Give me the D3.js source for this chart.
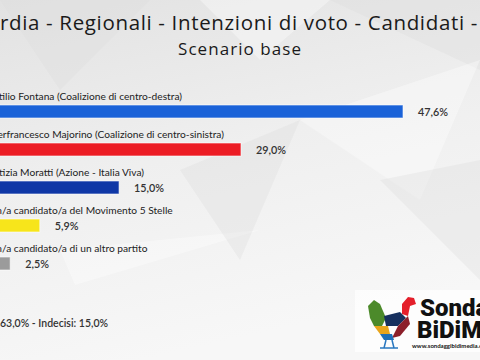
<!DOCTYPE html>
<html>
<head>
<meta charset="utf-8">
<script src="https://cdn.jsdelivr.net/npm/d3@7"></script>
<style>
  html, body { margin: 0; padding: 0; overflow: hidden; }
  svg { display: block; font-family: Lato, 'Open Sans', sans-serif; }
</style>
</head>
<body>
<svg width="480" height="360"></svg>
<script>
const CANDIDATES = [
  'Attilio Fontana (Coalizione di centro-destra)',
  'Pierfrancesco Majorino (Coalizione di centro-sinistra)',
  'Letizia Moratti (Azione - Italia Viva)',
  'Un/a candidato/a del Movimento 5 Stelle',
  'Un/a candidato/a di un altro partito'
]
const VALUES = [47.6, 29.0, 15.0, 5.9, 2.5]
const COLORS = ['#1a62d8', '#ec1c24', '#0f37a6', '#f7e51b', '#9b9b9b']
const TITLE = 'Lombardia - Regionali - Intenzioni di voto - Candidati - Gennaio 2023'
const SUBTITLE = 'Scenario base'
const FOOTNOTE = 'Affluenza: 63,0% - Indecisi: 15,0%'

const width = 480
const height = 360
const svg = d3.select('svg')
const fmt = v => d3.format('.1f')(v).replace('.', ',') + '%'

// measure a string with the given font settings
function measure (str, size, spacing) {
  const t = svg.append('text')
    .attr('font-family', "'Open Sans', sans-serif")
    .attr('font-size', size)
    .attr('letter-spacing', spacing)
    .text(str)
  const w = t.node().getComputedTextLength()
  t.remove()
  return w
}

// background, light low-poly look
const defs = svg.append('defs')
const grad = defs.append('linearGradient').attr('id', 'bg')
  .attr('x1', 0).attr('y1', 0).attr('x2', 0.3).attr('y2', 1)
grad.append('stop').attr('offset', 0).attr('stop-color', '#e2e2e2')
grad.append('stop').attr('offset', 0.5).attr('stop-color', '#efefef')
grad.append('stop').attr('offset', 1).attr('stop-color', '#f7f7f7')
svg.append('rect').attr('width', width).attr('height', height).attr('fill', 'url(#bg)')

const polys = [
  [[0, 0], [150, 0], [60, 90]],
  [[200, 0], [330, 0], [260, 60]],
  [[330, 0], [480, 0], [480, 70]],
  [[300, 120], [480, 60], [420, 200]],
  [[380, 180], [480, 160], [480, 280]],
  [[60, 250], [260, 230], [75, 285]],
  [[180, 170], [300, 120], [240, 260]]
]
svg.append('g').selectAll('polygon').data(polys).join('polygon')
  .attr('points', d => d.join(' '))
  .attr('fill', (d, i) => i % 2 ? '#ffffff' : '#dcdcdc')
  .attr('opacity', 0.35)

// title: stretched so the visible part spans the width
const titleSize = 20.5
const visible = TITLE.slice(5, 56)
const ls = (478 - measure(visible, titleSize, 0)) / visible.length
svg.append('text')
  .attr('x', -measure(TITLE.slice(0, 5), titleSize, ls))
  .attr('y', 30)
  .attr('font-family', "'Open Sans', sans-serif")
  .attr('font-size', titleSize)
  .attr('letter-spacing', ls)
  .attr('fill', '#1a1a1a')
  .text(TITLE)

const subSize = 17
const subLs = (124 - measure(SUBTITLE, subSize, 0)) / SUBTITLE.length
svg.append('text')
  .attr('x', 240 - 124 / 2).attr('y', 55)
  .attr('font-family', "'Open Sans', sans-serif")
  .attr('font-size', subSize)
  .attr('letter-spacing', subLs)
  .attr('fill', '#1a1a1a')
  .text(SUBTITLE)

// scales
const x = d3.scaleLinear().domain([0, 47.6]).range([-11.6, 403])
const y = d3.scaleBand().domain(CANDIDATES).range([92, 92 + 38 * CANDIDATES.length])
const barH = 13

const rows = svg.append('g').selectAll('g').data(CANDIDATES).join('g')
  .attr('transform', d => `translate(0,${y(d)})`)

rows.append('text')
  .attr('x', x(0) + 0.5)
  .attr('y', 8)
  .attr('font-size', 10.2)
  .attr('fill', '#222')
  .text(d => d)

rows.append('rect')
  .attr('x', x(0))
  .attr('y', 13)
  .attr('width', (d, i) => x(VALUES[i]) - x(0))
  .attr('height', barH)
  .attr('fill', (d, i) => COLORS[i])
  .attr('stroke', '#ffffff')
  .attr('stroke-opacity', 0.6)
  .attr('stroke-width', 1)

rows.append('text')
  .attr('x', (d, i) => x(VALUES[i]) + 15)
  .attr('y', 13 + barH / 2 + 4)
  .attr('font-size', 10.8)
  .attr('font-weight', 600)
  .attr('fill', '#333')
  .text((d, i) => fmt(VALUES[i]))

// footnote
svg.append('text')
  .attr('x', 108).attr('y', 327)
  .attr('text-anchor', 'end')
  .attr('font-size', 10.5)
  .attr('font-weight', 600)
  .attr('fill', '#333')
  .text(FOOTNOTE)

// logo
const logo = svg.append('g')
logo.append('rect').attr('x', 355).attr('y', 290).attr('width', 125).attr('height', 62)
  .attr('fill', '#fff').attr('opacity', 0.7)
logo.append('path').attr('d', 'M368,306 L374,300 L380,304 L386,318 L382,326 L374,326 L370,318 Z').attr('fill', '#4c8a2a')
logo.append('path').attr('d', 'M384,316 L400,312 L406,318 L398,326 L386,326 Z').attr('fill', '#16305e')
logo.append('path').attr('d', 'M374,326 L388,326 L390,334 L380,334 Z').attr('fill', '#e8a51c')
logo.append('path').attr('d', 'M398,326 L408,316 L410,324 L400,336 L392,338 Z').attr('fill', '#8c1f2a')
logo.append('path').attr('d', 'M380,334 L392,334 L394,340 L384,340 Z').attr('fill', '#1d6fb8')
logo.append('path').attr('d', 'M402,314 L402,304 L408,297 L414,298 L416,304 L410,306 L408,316 Z').attr('fill', '#e41f2b')
logo.append('path').attr('d', 'M386,340 L384,348 M392,340 L394,348 M380,348 L398,348')
  .attr('stroke', '#2a78c0').attr('stroke-width', 1.5).attr('fill', 'none')
logo.append('text').attr('x', 420).attr('y', 316).attr('font-size', 24)
  .attr('font-weight', 900).attr('font-family', 'Roboto, sans-serif').attr('fill', '#111').text('Sondaggi')
logo.append('text').attr('x', 417).attr('y', 338).attr('font-size', 24)
  .attr('font-weight', 900).attr('font-family', 'Roboto, sans-serif').attr('fill', '#111').text('BiDiMedia')
logo.append('text').attr('x', 412).attr('y', 348).attr('font-size', 6)
  .attr('font-weight', 700).attr('fill', '#111').text('www.sondaggibidimedia.com')
</script>
</body>
</html>
